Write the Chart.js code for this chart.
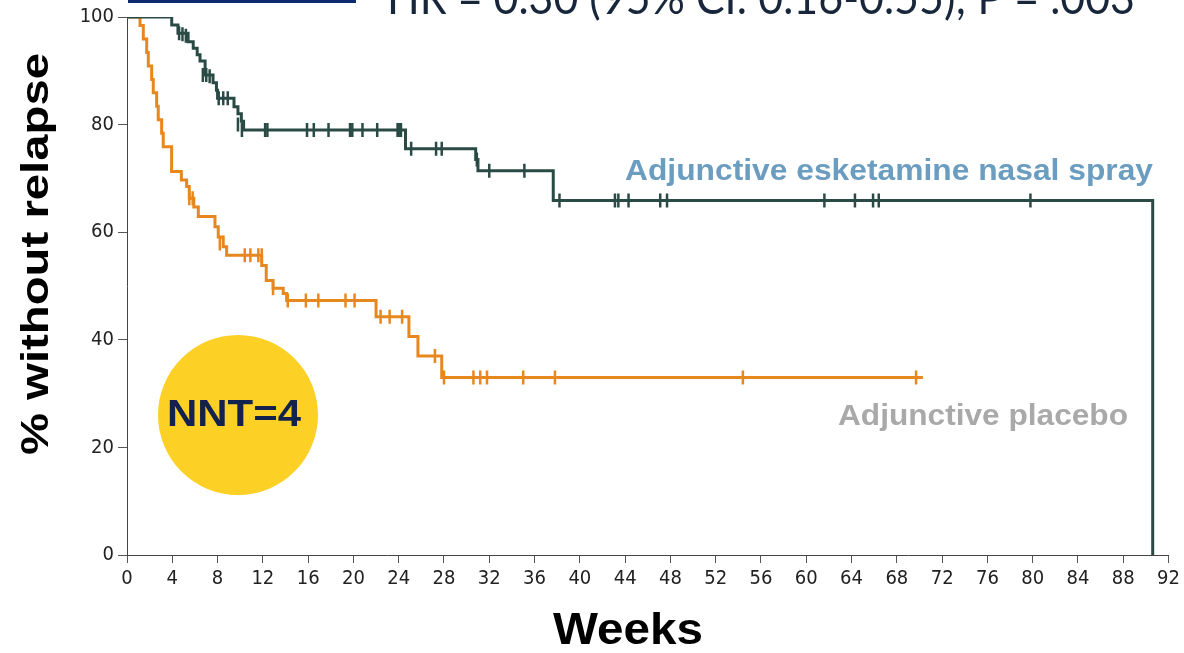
<!DOCTYPE html>
<html>
<head>
<meta charset="utf-8">
<script src="https://cdn.jsdelivr.net/npm/chart.js@4.4.1/dist/chart.umd.min.js"></script>
<style>
    html, body { margin: 0; padding: 0; background: #ffffff; }
    #wrap { width: 1184px; height: 653px; position: relative; }
</style>
</head>
<body>
<div id="wrap"><canvas id="km-chart" width="1184" height="653"></canvas></div>
<script>
// Kaplan-Meier steps: week where the curve drops, and the new % without relapse
const eskWeeks    = [0, 3.95, 4.5, 5.4, 5.85, 6.2, 6.45, 6.9, 7.6, 7.9, 8.0, 9.45, 9.8, 10.1, 10.3, 24.6, 30.8, 31.0, 37.65, 90.6];
const eskSurvival = [100, 98.5, 97.0, 95.4, 94.2, 93.0, 91.8, 89.2, 87.8, 86.4, 84.9, 83.3, 82.0, 80.6, 79.0, 75.5, 73.5, 71.4, 65.9, 0];

const eskCensorWeeks = [4.6, 4.9, 5.2, 6.7, 7.0, 7.3, 8.1, 8.5, 8.9, 9.8, 10.15, 12.2, 12.4, 15.9, 16.5, 17.8, 19.7, 19.9, 20.8, 22.1, 23.9, 24.0, 24.2,
    25.1, 27.3, 27.8, 30.9, 32.0, 35.1, 38.2, 43.1, 43.4, 44.3, 47.1, 47.7, 61.6, 64.3, 65.9, 66.4, 79.8];
const eskCensorSurvival = [97.0, 96.8, 96.5, 89.2, 89.2, 89.0, 84.9, 84.9, 84.9, 80.0, 79.0, 79.0, 79.0, 79.0, 79.0, 79.0, 79.0, 79.0, 79.0, 79.0, 79.0, 79.0, 79.0,
    75.5, 75.5, 75.5, 73.5, 71.4, 71.4, 65.9, 65.9, 65.9, 65.9, 65.9, 65.9, 65.9, 65.9, 65.9, 65.9, 65.9];

const placeboWeeks    = [0, 1.15, 1.44, 1.74, 1.88, 2.18, 2.32, 2.62, 2.76, 3.06, 3.2, 3.94, 4.8, 5.27, 5.5, 5.9, 6.3, 7.77, 8.06, 8.5, 8.8,
    11.9, 12.3, 12.9, 13.8, 14.1, 22.0, 24.9, 25.7, 27.8, 70.3];
const placeboSurvival = [100, 98.4, 95.9, 93.4, 90.9, 88.4, 85.9, 83.4, 80.9, 78.4, 75.9, 71.3, 69.7, 68.5, 66.3, 64.7, 62.9, 61.0, 59.1, 57.3, 55.7,
    53.8, 51.0, 49.6, 48.6, 47.3, 44.3, 40.6, 37.0, 33.0, 33.0];

const placeboCensorWeeks = [5.5, 5.8, 8.2, 10.4, 10.9, 11.6, 11.9, 12.9, 14.2, 15.8, 16.9, 19.3, 20.1, 22.4, 23.2, 24.3, 27.2,
    28.0, 30.6, 31.2, 31.8, 35.0, 37.8, 54.4, 69.7];
const placeboCensorSurvival = [66.3, 66.3, 57.9, 55.7, 55.7, 55.7, 55.7, 49.6, 47.3, 47.3, 47.3, 47.3, 47.3, 44.3, 44.3, 44.3, 37.0,
    33.0, 33.0, 33.0, 33.0, 33.0, 33.0, 33.0, 33.0];

const xTickStep = 4;
const yTickStep = 20;

const eskColor = '#2a4a45';
const placeboColor = '#e8871e';

function toPoints(xs, ys) {
    return xs.map((x, i) => ({ x: x, y: ys[i] }));
}

// draw text squeezed or stretched to a target width
function fitText(ctx, text, x, y, width, font, color) {
    ctx.save();
    ctx.font = font;
    ctx.fillStyle = color;
    ctx.textBaseline = 'middle';
    ctx.textAlign = 'left';
    const w = ctx.measureText(text).width;
    ctx.translate(x, y);
    ctx.scale(width / w, 1);
    ctx.fillText(text, 0, 0);
    ctx.restore();
}

const extrasPlugin = {
    id: 'extras',
    afterDraw(chart) {
        const ctx = chart.ctx;

        // cut off heading at the very top
        ctx.save();
        ctx.fillStyle = '#0c2a70';
        ctx.fillRect(128, 0, 228, 3);
        ctx.restore();
        ctx.save();
        ctx.font = '46px Lato, "Open Sans", sans-serif';
        ctx.fillStyle = '#17263a';
        ctx.textBaseline = 'alphabetic';
        const hr = 'HR = 0.30 (95% CI: 0.16-0.55); P = .003';
        const hw = ctx.measureText(hr).width;
        ctx.translate(387, 14);
        ctx.scale(748 / hw, 1);
        ctx.fillText(hr, 0, 0);
        ctx.restore();

        // NNT badge
        ctx.save();
        ctx.beginPath();
        ctx.arc(238, 415, 80, 0, Math.PI * 2);
        ctx.fillStyle = '#fcd024';
        ctx.fill();
        ctx.restore();
        fitText(ctx, 'NNT=4', 167, 416, 134, 'bold 36px "Liberation Sans", Arial, sans-serif', '#13214d');

        // series labels
        fitText(ctx, 'Adjunctive esketamine nasal spray', 625, 172, 528, 'bold 30px "Liberation Sans", Arial, sans-serif', '#6b9dc0');
        fitText(ctx, 'Adjunctive placebo', 838, 417, 290, 'bold 30px "Liberation Sans", Arial, sans-serif', '#a9a9a9');

        // axis titles
        fitText(ctx, 'Weeks', 553, 632, 150, 'bold 44px "Liberation Sans", Arial, sans-serif', '#000000');
        ctx.save();
        ctx.translate(38, 455);
        ctx.rotate(-Math.PI / 2);
        fitText(ctx, '% without relapse', 0, 0, 402, 'bold 38px "Liberation Sans", Arial, sans-serif', '#000000');
        ctx.restore();
    }
};

const tickFont = { family: '"Liberation Sans Narrow", "DejaVu Sans Condensed", "Liberation Sans", sans-serif', size: 20 };

const ctx = document.getElementById('km-chart').getContext('2d');
new Chart(ctx, {
    type: 'line',
    data: {
        datasets: [
            {
                label: 'Adjunctive esketamine nasal spray',
                data: toPoints(eskWeeks, eskSurvival),
                borderColor: eskColor,
                borderWidth: 3,
                stepped: true,
                pointRadius: 0,
                fill: false
            },
            {
                label: 'Adjunctive placebo',
                data: toPoints(placeboWeeks, placeboSurvival),
                borderColor: placeboColor,
                borderWidth: 3,
                stepped: true,
                pointRadius: 0,
                fill: false
            },
            {
                type: 'scatter',
                label: 'esketamine censored',
                data: toPoints(eskCensorWeeks, eskCensorSurvival),
                pointStyle: 'line',
                rotation: 90,
                pointRadius: 7,
                borderColor: eskColor,
                backgroundColor: eskColor,
                pointBorderWidth: 2.5
            },
            {
                type: 'scatter',
                label: 'placebo censored',
                data: toPoints(placeboCensorWeeks, placeboCensorSurvival),
                pointStyle: 'line',
                rotation: 90,
                pointRadius: 7,
                borderColor: placeboColor,
                backgroundColor: placeboColor,
                pointBorderWidth: 2.5
            }
        ]
    },
    options: {
        responsive: false,
        animation: false,
        layout: { padding: { top: 17, right: 11, left: 0, bottom: 0 } },
        plugins: {
            legend: { display: false },
            tooltip: { enabled: false }
        },
        scales: {
            x: {
                type: 'linear',
                min: 0,
                max: 92,
                afterFit: scale => { scale.height = 98; },
                ticks: { stepSize: xTickStep, color: '#222', font: tickFont, padding: 4, maxRotation: 0, autoSkip: false },
                grid: { drawOnChartArea: false, tickLength: 8, color: '#555' },
                border: { color: '#444', width: 1 }
            },
            y: {
                min: 0,
                max: 100,
                afterFit: scale => { scale.width = 127; },
                ticks: { stepSize: yTickStep, color: '#222', font: tickFont, padding: 4 },
                grid: { drawOnChartArea: false, tickLength: 9, color: '#555' },
                border: { color: '#444', width: 1 }
            }
        }
    },
    plugins: [extrasPlugin]
});
</script>
</body>
</html>
